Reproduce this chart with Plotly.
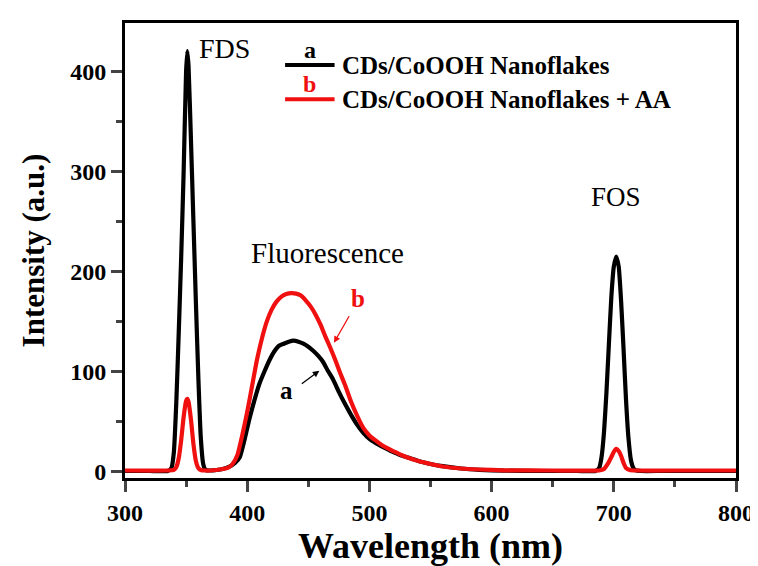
import plotly.graph_objects as go

# ---- data ----
wl_a = [300, 320, 335, 338, 340, 342, 344, 346, 348, 350, 351, 352, 354, 356, 358, 360, 362, 364, 366,
        370, 375, 380, 385, 390, 394, 398, 402, 406, 410, 414, 418, 422, 426, 430, 434, 438, 442, 446,
        450, 454, 458, 462, 466, 470, 475, 480, 485, 490, 495, 500, 505, 510, 515, 520, 525, 530, 540,
        550, 560, 575, 590, 610, 640, 670, 685, 688, 690, 692, 694, 696, 698, 700, 702, 704, 706, 708,
        710, 712, 714, 716, 718, 722, 740, 770, 800]
int_a = [1, 1, 1, 4, 20, 70, 140, 215, 300, 400, 420, 405, 330, 250, 170, 95, 35, 8, 2,
         1.5, 2, 3, 5, 9, 15, 33, 54, 72, 88, 100, 111, 120, 126, 128, 130, 131, 130, 128,
         125, 121, 116, 110, 101, 93, 80, 68, 57, 47, 39, 33, 29, 25.5, 22.5, 19.5, 17, 15, 11,
         8, 5.8, 3.5, 2.2, 1.3, 1, 1, 1, 4, 15, 40, 80, 128, 175, 205, 215, 205, 170, 122,
         72, 34, 12, 4, 1.5, 1, 1, 1, 1]

wl_b = [300, 335, 340, 342, 344, 346, 348, 350, 351, 352, 354, 356, 358, 360, 362, 366, 370, 375,
        380, 384, 388, 392, 396, 400, 404, 408, 412, 416, 420, 424, 428, 432, 436, 440, 444, 448,
        452, 456, 460, 464, 468, 472, 476, 480, 485, 490, 495, 500, 505, 510, 515, 520, 525, 530,
        540, 550, 560, 575, 590, 610, 650, 688, 692, 695, 698, 700, 702, 704, 706, 708, 710, 713,
        718, 760, 800]
int_b = [1.5, 1.5, 2, 5, 14, 32, 55, 71, 73, 70, 52, 28, 11, 4, 2, 1.5, 1.5, 2,
         3, 4, 8, 17, 37, 60, 86, 112, 133, 150, 162, 170, 175, 177.5, 178.5, 178, 176, 171,
         165, 157, 147, 135, 124, 112, 99, 87, 70, 56, 44, 36.5, 31.5, 27, 23.5, 20.5, 17.5, 15,
         11, 8, 5.5, 3.5, 2.5, 1.7, 1.5, 1.5, 3, 8, 15, 20, 23, 21, 16, 9, 4, 2,
         1.5, 1.5, 1.5]

name_a = "CDs/CoOOH Nanoflakes"
name_b = "CDs/CoOOH Nanoflakes + AA"
x_ticks = [300, 400, 500, 600, 700, 800]
y_ticks = [0, 100, 200, 300, 400]

FONT = "Liberation Serif"
RED = "#f01010"

fig = go.Figure()
fig.add_trace(go.Scatter(x=wl_a, y=int_a, mode="lines", name=name_a,
                         line=dict(color="black", width=4.2, shape="spline", smoothing=0.5)))
fig.add_trace(go.Scatter(x=wl_b, y=int_b, mode="lines", name=name_b,
                         line=dict(color=RED, width=4.2, shape="spline", smoothing=0.5)))

fig.update_layout(
    width=758, height=566,
    margin=dict(l=117, r=26, t=14, b=96),
    plot_bgcolor="white", paper_bgcolor="white",
    showlegend=False,
    font=dict(family=FONT, color="black"),
)
fig.update_xaxes(
    range=[300, 800], tickvals=x_ticks, ticks="outside", ticklen=11, tickwidth=3,
    showline=True, linewidth=3, linecolor="black", mirror=True,
    showgrid=False, zeroline=False,
    tickfont=dict(family=FONT, size=24, color="black", weight="bold"),
    minor=dict(ticks="outside", ticklen=6, tickwidth=3, dtick=50, tick0=300, showgrid=False),
    title=dict(text="Wavelength (nm)", standoff=6,
               font=dict(family=FONT, size=36, color="black", weight="bold")),
)
fig.update_yaxes(
    range=[-6, 448], tickvals=y_ticks, ticks="outside", ticklen=11, tickwidth=3,
    showline=True, linewidth=3, linecolor="black", mirror=True,
    showgrid=False, zeroline=False,
    tickfont=dict(family=FONT, size=24, color="black", weight="bold"),
    minor=dict(ticks="outside", ticklen=6, tickwidth=3, dtick=50, tick0=0, showgrid=False),
    title=dict(text="Intensity (a.u.)", standoff=17,
               font=dict(family=FONT, size=31, color="black", weight="bold")),
)

# manual legend
for yy, col, lab, txt in [(0.9075, "black", "a", name_a),
                          (0.8325, RED, "b", name_b)]:
    fig.add_shape(type="line", xref="paper", yref="paper", x0=0.262, x1=0.343, y0=yy, y1=yy,
                  line=dict(color=col, width=4))
    fig.add_annotation(xref="paper", yref="paper", x=0.352, y=yy, text=txt, showarrow=False,
                       xanchor="left", yanchor="middle",
                       font=dict(family=FONT, size=25, color="black", weight="bold"))
    fig.add_annotation(xref="paper", yref="paper", x=0.3025, y=yy + 0.033, text=lab, showarrow=False,
                       xanchor="center", yanchor="middle",
                       font=dict(family=FONT, size=24, color=col, weight="bold"))

# labels
fig.add_annotation(x=351, y=421, xref="x", yref="y", text="FDS", showarrow=False,
                   xshift=37, yshift=2, font=dict(family=FONT, size=28, color="black"))
fig.add_annotation(x=702, y=274, xref="x", yref="y", text="FOS", showarrow=False,
                   font=dict(family=FONT, size=27, color="black"))
fig.add_annotation(x=466, y=219, xref="x", yref="y", text="Fluorescence", showarrow=False,
                   font=dict(family=FONT, size=29, color="black"))
fig.add_annotation(x=491, y=173, xref="x", yref="y", text="b", showarrow=False,
                   font=dict(family=FONT, size=25, color=RED, weight="bold"))
fig.add_annotation(x=432, y=81, xref="x", yref="y", text="a", showarrow=False,
                   font=dict(family=FONT, size=25, color="black", weight="bold"))
# arrows
fig.add_annotation(x=471, y=129, xref="x", yref="y", text="", showarrow=True,
                   ax=16, ay=-28, arrowhead=2, arrowsize=1, arrowwidth=1.3, arrowcolor=RED)
fig.add_annotation(x=459, y=101, xref="x", yref="y", text="", showarrow=True,
                   ax=-19, ay=14, arrowhead=2, arrowsize=1, arrowwidth=1.3, arrowcolor="black")

fig.write_html("out.html")
